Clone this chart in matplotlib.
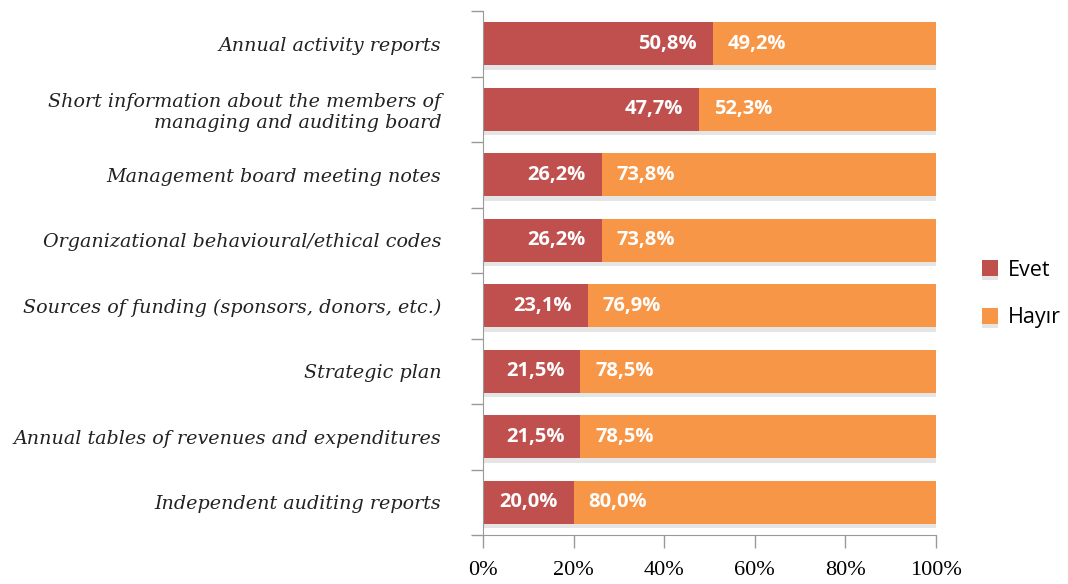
import numpy as np
import matplotlib
matplotlib.use("Agg")
from matplotlib import pyplot as plt
from matplotlib import patheffects as pe
from matplotlib.ticker import PercentFormatter

categories = [
    "Annual activity reports",
    "Short information about the members of\nmanaging and auditing board",
    "Management board meeting notes",
    "Organizational behavioural/ethical codes",
    "Sources of funding (sponsors, donors, etc.)",
    "Strategic plan",
    "Annual tables of revenues and expenditures",
    "Independent auditing reports",
]
evet = [50.8, 47.7, 26.2, 26.2, 23.1, 21.5, 21.5, 20.0]
hayir = [49.2, 52.3, 73.8, 73.8, 76.9, 78.5, 78.5, 80.0]
series_names = ["Evet", "Hayır"]

red = "#C0504D"
orange = "#F79646"

fig = plt.figure(figsize=(10.68, 5.84), dpi=100)
ax = fig.add_axes([483 / 1068, 1 - 535 / 584, (936 - 483) / 1068, (535 - 11) / 584])

y = np.arange(len(categories))
shadow = [pe.SimplePatchShadow(offset=(0, -3), shadow_rgbFace="#999999", alpha=0.25), pe.Normal()]
b1 = ax.barh(y, evet, height=0.66, color=red, label=series_names[0], path_effects=shadow)
b2 = ax.barh(y, hayir, left=evet, height=0.66, color=orange, label=series_names[1], path_effects=shadow)

def fmt(v):
    return f"{v:.1f}%".replace(".", ",")

lab_font = dict(color="white", fontsize=14.5, fontweight="bold", family="Open Sans", va="center")
for i in range(len(categories)):
    ax.annotate(fmt(evet[i]), (evet[i], y[i]), xytext=(-16, 0), textcoords="offset pixels",
                ha="right", **lab_font)
    ax.annotate(fmt(hayir[i]), (evet[i], y[i]), xytext=(15, 0), textcoords="offset pixels",
                ha="left", **lab_font)

ax.set_xlim(0, 100)
ax.set_ylim(len(categories) - 0.5, -0.5)
ax.set_yticks(y)
ax.set_yticklabels(categories, fontsize=13.8, family="DejaVu Serif", style="italic",
                   color="#222222", linespacing=1.2)
ax.set_yticks(np.arange(len(categories) + 1) - 0.5, minor=True)
ax.tick_params(axis="y", which="major", length=0, pad=30)
ax.tick_params(axis="y", which="minor", length=9, color="#999999", width=1)
ax.set_xticks([0, 20, 40, 60, 80, 100])
ax.xaxis.set_major_formatter(PercentFormatter(decimals=0))
ax.tick_params(axis="x", length=9, color="#999999", width=1, pad=10, labelsize=16)
for t in ax.get_xticklabels():
    t.set_family("Liberation Serif")
for s in ["top", "right"]:
    ax.spines[s].set_visible(False)
ax.spines["left"].set_color("#999999")
ax.spines["bottom"].set_color("#999999")

fig.legend(handles=[b1, b2], loc="center left", bbox_to_anchor=(982 / 1068, 1 - 294 / 584),
           frameon=False, prop={"family": "Open Sans", "size": 15.5},
           borderpad=0, borderaxespad=0,
           handlelength=0.75, handleheight=0.75, handletextpad=0.45, labelspacing=1.25)

fig.savefig("out.png", dpi=100)
